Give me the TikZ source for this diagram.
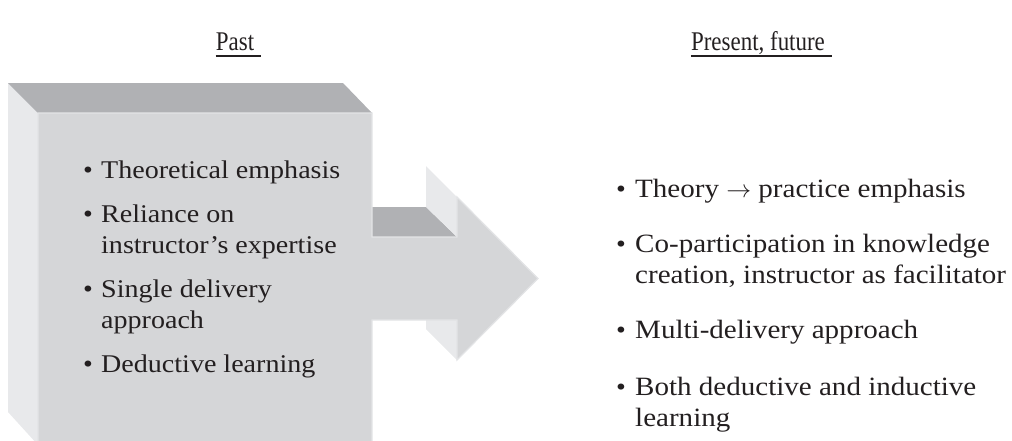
\documentclass[tikz,border=0pt]{standalone}
\usepackage{fontspec}
\setmainfont{Liberation Serif}
\newfontfamily\bodyfont{Liberation Serif}[FakeStretch=1.1]
\newfontfamily\headfont{Liberation Serif}[FakeStretch=0.85]
\definecolor{facefront}{HTML}{D5D6D8}
\definecolor{facetop}{HTML}{B0B1B4}
\definecolor{faceside}{HTML}{E8E9EB}
\definecolor{faceedge}{HTML}{E3E4E6}
\definecolor{inkc}{HTML}{231F20}
\tikzset{
  txt/.style={anchor=base west, inner sep=0pt, text=inkc, font=\bodyfont\fontsize{25.5}{31}\selectfont},
  rtxt/.style={anchor=base west, inner sep=0pt, text=inkc, font=\bodyfont\fontsize{26.4}{31}\selectfont},
  bul/.style={anchor=base, inner sep=0pt, text=inkc, font=\bodyfont\fontsize{25.5}{31}\selectfont},
  head/.style={anchor=base, inner sep=0pt, text=inkc, font=\headfont\fontsize{27}{30}\selectfont},
  uline/.style={draw=inkc, line width=1.6pt},
  front/.style={fill=facefront, draw=faceedge, line width=1.2pt, line join=miter},
  dark/.style={fill=facetop},
  light/.style={fill=faceside},
}
\newcommand\twolines[2]{\parbox[t]{420pt}{\raggedright #1\\#2}}
\begin{document}
\begin{tikzpicture}[x=1pt,y=-1pt]
\useasboundingbox (0,0) rectangle (1012,440);
% 3D block arrow
\fill[light] (8,83) -- (38,113) -- (38,445) -- (8,412) -- cycle;
\fill[dark] (8,83) -- (343,83) -- (372,113) -- (38,113) -- cycle;
\fill[dark] (372,207) -- (426,207) -- (457,237) -- (372,237) -- cycle;
\fill[light] (426,166) -- (457,197) -- (457,237) -- (426,207) -- cycle;
\fill[light] (426,320) -- (457,320) -- (457,360) -- (426,329) -- cycle;
\path[front] (38,113) -- (372,113) -- (372,237) -- (457,237) -- (457,197)
  -- (538,278.5) -- (457,360) -- (457,320) -- (372,320) -- (372,450)
  -- (38,450) -- cycle;
% headings
\node[head] (past) at (235,50) {Past};
\node[head] (pres) at (758,50) {Present, future};
\coordinate (pastR) at ([xshift=7pt]past.base east);
\coordinate (presR) at ([xshift=7pt]pres.base east);
\draw[uline] ([yshift=-6pt]past.base west) -- ([yshift=-6pt]pastR);
\draw[uline] ([yshift=-6pt]pres.base west) -- ([yshift=-6pt]presR);
% left items
\node[bul] (lb1) at (88,178) {\textbullet};
\node[txt] (l1) at (101,178) {Theoretical emphasis};
\node[bul] (lb2) at (88,222) {\textbullet};
\node[txt] (l2) at (101,222) {\twolines{Reliance on}{instructor’s expertise}};
\node[bul] (lb3) at (88,297) {\textbullet};
\node[txt] (l3) at (101,297) {\twolines{Single delivery}{approach}};
\node[bul] (lb4) at (88,372) {\textbullet};
\node[txt] (l4) at (101,372) {Deductive learning};
% right items
\node[bul] (rb1) at (621,197) {\textbullet};
\node[rtxt] (r1) at (635,197) {Theory $\rightarrow$ practice emphasis};
\node[bul] (rb2) at (621,252) {\textbullet};
\node[rtxt] (r2) at (635,252) {\twolines{Co-participation in knowledge}{creation, instructor as facilitator}};
\node[bul] (rb3) at (621,338) {\textbullet};
\node[rtxt] (r3) at (635,338) {Multi-delivery approach};
\node[bul] (rb4) at (621,395) {\textbullet};
\node[rtxt] (r4) at (635,395) {\twolines{Both deductive and inductive}{learning}};
\end{tikzpicture}
\end{document}
